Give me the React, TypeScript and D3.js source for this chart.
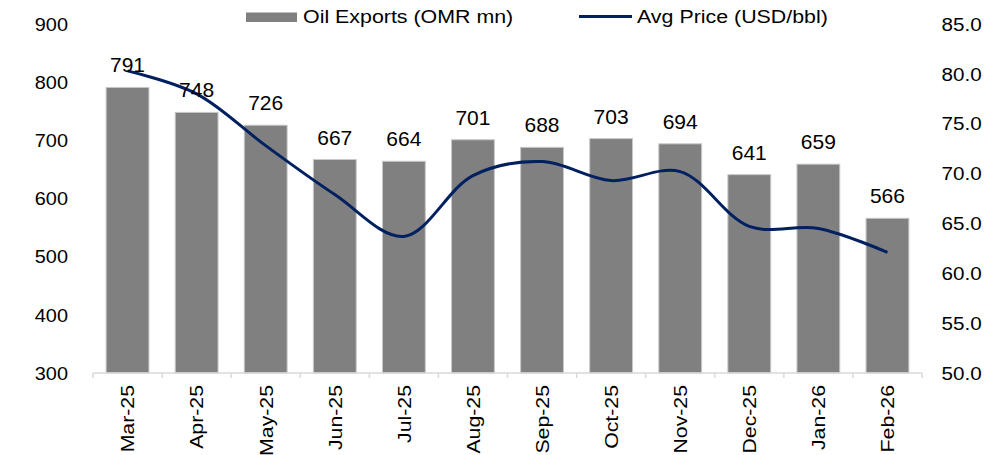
import React from 'react';
import * as d3 from 'd3';

const months = ['Mar-25','Apr-25','May-25','Jun-25','Jul-25','Aug-25','Sep-25','Oct-25','Nov-25','Dec-25','Jan-26','Feb-26'];
const exports = [791,748,726,667,664,701,688,703,694,641,659,566];
const prices = [80.3,78.0,72.8,67.9,63.7,69.8,71.2,69.3,70.2,64.7,64.5,62.1];
const leftTicks = [300,400,500,600,700,800,900];
const rightTicks = [50,55,60,65,70,75,80,85];

const width = 1000;
const height = 455;
const plot = {left:93, right:922, top:24, bottom:373};
const font = '"Liberation Sans", Arial, sans-serif';

// text drawn a bit wider than the font, like the source rendering
const T = ({x, y, size, sx = 1, rot = 0, anchor = 'start', dy = '0', children}: any) => (
  <text transform={`translate(${x},${y}) rotate(${rot}) scale(${sx},1)`} dy={dy}
    textAnchor={anchor} fontSize={size} fill="#000">{children}</text>
);

export default function App() {
  const x = d3.scaleBand<string>()
    .domain(months)
    .range([plot.left, plot.right])
    .paddingInner(0.38)
    .paddingOuter(0.19);

  const yLeft = d3.scaleLinear().domain([300,900]).range([plot.bottom, plot.top]);
  const yRight = d3.scaleLinear().domain([50,85]).range([plot.bottom, plot.top]);

  const center = (m: string) => (x(m) as number) + x.bandwidth() / 2;

  const line = d3.line<number>()
    .x((d, i) => center(months[i]))
    .y(d => yRight(d))
    .curve(d3.curveCatmullRom.alpha(0.5));

  const step = x.step();
  const tickX = d3.range(months.length + 1).map(i => plot.left + i * step);

  return (
    <svg width={width} height={height} style={{position:'absolute', left:0, top:0, background:'#fff'}} fontFamily={font}>
      {/* legend */}
      <rect x={246} y={12.5} width={51} height={9.5} fill="#808080" />
      <T x={303} y={22.5} size={18.6} sx={1.15}>Oil Exports (OMR mn)</T>
      <line x1={579} x2={632} y1={16.5} y2={16.5} stroke="#002060" strokeWidth={3} />
      <T x={637} y={22.5} size={18.6} sx={1.15}>Avg Price (USD/bbl)</T>

      {/* left axis labels */}
      {leftTicks.map(t => (
        <T key={t} x={68} y={yLeft(t)} dy="0.36em" anchor="end" size={18.6} sx={1.07}>{t}</T>
      ))}
      {/* right axis labels */}
      {rightTicks.map(t => (
        <T key={t} x={941.5} y={yRight(t)} dy="0.36em" size={18.6} sx={1.11}>{t.toFixed(1)}</T>
      ))}

      {/* bars */}
      {exports.map((v, i) => (
        <rect key={months[i]}
          x={x(months[i])}
          y={yLeft(v)}
          width={x.bandwidth()}
          height={yLeft(300) - yLeft(v)}
          fill="#808080"
          stroke="#c8c8c8"
          strokeWidth={1} />
      ))}

      {/* x axis */}
      <line x1={plot.left} x2={plot.right} y1={plot.bottom} y2={plot.bottom} stroke="#d9d9d9" strokeWidth={1.5} />
      {tickX.map((tx, i) => (
        <line key={i} x1={tx} x2={tx} y1={plot.bottom} y2={plot.bottom + 5} stroke="#d9d9d9" strokeWidth={1.5} />
      ))}
      {months.map(m => (
        <T key={m} x={center(m)} y={385} rot={-90} dy="0.36em" anchor="end" size={19} sx={1.12}>{m}</T>
      ))}

      {/* price line */}
      <path d={line(prices) || ''} fill="none" stroke="#002060" strokeWidth={3} />

      {/* data labels */}
      {exports.map((v, i) => (
        <T key={'l' + i} x={center(months[i])} y={yLeft(v) - 15} anchor="middle" size={20} sx={1.05}>{v}</T>
      ))}
    </svg>
  );
}
